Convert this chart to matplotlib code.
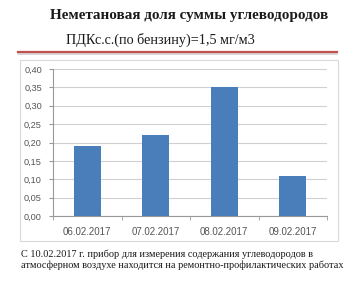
import matplotlib.pyplot as plt
from matplotlib.patches import Rectangle
from matplotlib.lines import Line2D

# данные
dates = ["06.02.2017", "07.02.2017", "08.02.2017", "09.02.2017"]
values = [0.19, 0.22, 0.35, 0.11]
yticks = [0.00, 0.05, 0.10, 0.15, 0.20, 0.25, 0.30, 0.35, 0.40]

title = "Неметановая доля суммы углеводородов"
subtitle = "ПДКс.с.(по бензину)=1,5 мг/м3"
note = ("С 10.02.2017 г. прибор для измерения содержания углеводородов в\n"
        "атмосферном воздухе находится на ремонтно-профилактических работах")

W, H = 347, 281
fig = plt.figure(figsize=(W / 100, H / 100), dpi=100)
fig.patch.set_facecolor("white")

# рамка диаграммы
fig.add_artist(Rectangle((20 / W, 1 - 241 / H), 318 / W, 181 / H,
                         transform=fig.transFigure, fill=False,
                         edgecolor="#d9d9d9", linewidth=0.8))

# красная линия под заголовком
fig.add_artist(Line2D([18 / W, 337 / W], [1 - 53.5 / H, 1 - 53.5 / H],
                      transform=fig.transFigure, color="#d6d0d0", linewidth=1.2))
fig.add_artist(Line2D([18 / W, 337 / W], [1 - 52 / H, 1 - 52 / H],
                      transform=fig.transFigure, color="#c0504d", linewidth=1.6))

fig.text(189 / W, 1 - 15 / H, title, ha="center", va="center",
         family="Liberation Serif", fontweight="bold", fontsize=10.9, color="#1a1a1a")
fig.text(160 / W, 1 - 40 / H, subtitle, ha="center", va="center",
         family="Liberation Serif", fontsize=10.2, color="#1a1a1a")
fig.text(21 / W, 1 - 260 / H, note, ha="left", va="center",
         family="Liberation Serif", fontsize=7.4, color="#1a1a1a", linespacing=1.2)

ax = fig.add_axes([53 / W, 1 - 216 / H, 274 / W, 147 / H])
x = range(len(dates))
ax.bar(x, values, width=0.4, color="#4a7ebb", zorder=3)
ax.set_xlim(-0.5, 3.5)
ax.set_ylim(0, 0.40)
ax.set_yticks(yticks)
ax.set_yticklabels([f"{v:.2f}".replace(".", ",") for v in yticks])
ax.set_xticks(list(x))
ax.set_xticklabels(dates)
ax.grid(axis="y", color="#d0d0d0", linewidth=0.8, zorder=0)
for s in ["top", "right"]:
    ax.spines[s].set_visible(False)
ax.spines["left"].set_color("#999999")
ax.spines["bottom"].set_color("#999999")
ax.tick_params(axis="y", length=3, color="#999999", labelsize=6.6,
               labelcolor="#555555", pad=5)
ax.tick_params(axis="x", length=0, labelsize=7, labelcolor="#555555", pad=8)
for t in ax.get_xticklabels() + ax.get_yticklabels():
    t.set_family("Liberation Sans")
# вертикальные отметки между категориями на оси X
ax.set_xticks([-0.5, 0.5, 1.5, 2.5, 3.5], minor=True)
ax.tick_params(axis="x", which="minor", length=3, color="#999999")

fig.savefig("out.png", dpi=100)
